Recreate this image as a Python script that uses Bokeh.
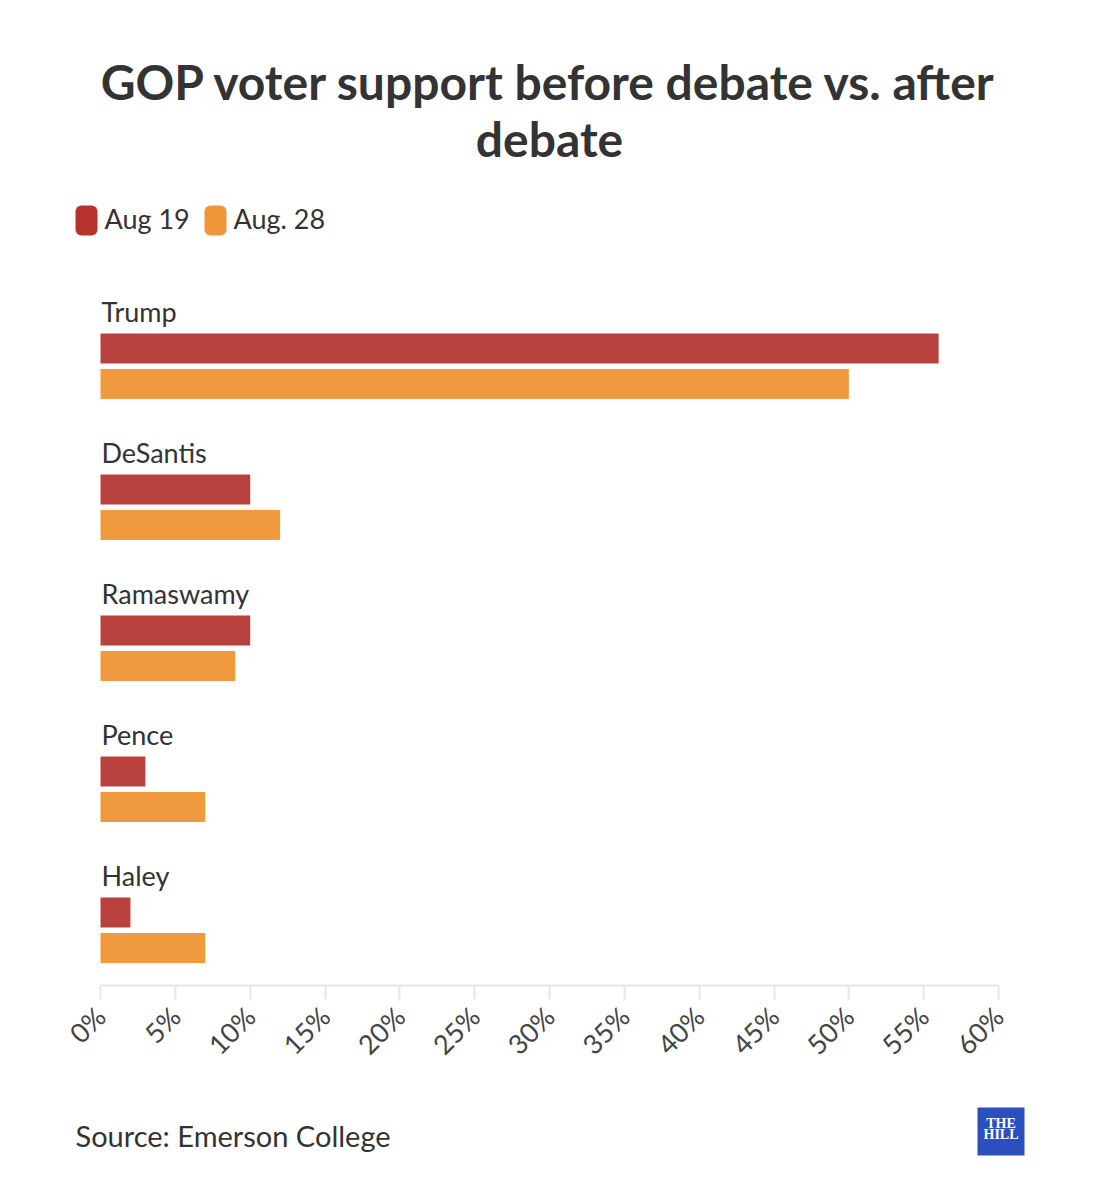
from bokeh.plotting import figure
from bokeh.models import Range1d, LinearAxis, FixedTicker, PrintfTickFormatter, ColumnDataSource, Label
from bokeh.core.properties import value
from bokeh.embed import file_html
from bokeh.resources import INLINE
import math

# ---- data ----
candidates = ["Trump", "DeSantis", "Ramaswamy", "Pence", "Haley"]
aug19 = [56, 10, 10, 3, 2]
aug28 = [50, 12, 9, 7, 7]
series_names = ["Aug 19", "Aug. 28"]
tick_values = [0, 5, 10, 15, 20, 25, 30, 35, 40, 45, 50, 55, 60]
title_lines = ["GOP voter support before debate vs. after", "debate"]
source_text = "Source: Emerson College"

# ---- styles / layout ----
W, H = 1082, 1184
RED = "#b8413d"
ORANGE = "#f09a3f"
LEG_RED = "#b5332c"
LEG_ORANGE = "#f0963a"
TXT = "#333333"
FONT = "Lato"
BASE_K = 0.43   # empirical alphabetic-baseline correction (fraction of font size)

PX_X0, PX_X1 = 100, 998          # px for 0% and 60%
XMAX = tick_values[-1]
pxu = (PX_X1 - PX_X0) / XMAX
PITCH = 141.0                    # px per category row
ROW0 = 348.0                     # px (from top) of first red bar center

def fx(sx):  # screen x -> data x
    return (sx - PX_X0) / pxu

def fy(sy):  # screen y -> data y (row units)
    return (sy - ROW0) / PITCH

def fyb(sy, size):  # baseline target -> label y
    return fy(sy - BASE_K * size)

p = figure(width=W, height=H, output_backend="svg", toolbar_location=None,
           x_range=Range1d(-PX_X0 / pxu, XMAX + (W - PX_X1) / pxu),
           y_range=Range1d((H - ROW0) / PITCH, -ROW0 / PITCH),
           min_border=0, x_axis_location=None, y_axis_location=None)
p.outline_line_color = None
p.xgrid.visible = False
p.ygrid.visible = False
p.background_fill_color = "white"
p.border_fill_color = "white"

BAR_H = 30 / PITCH
OFF = 35.5 / PITCH
LAB_SIZE = 27
idx = list(range(len(candidates)))
src = ColumnDataSource(dict(
    y1=idx, y2=[i + OFF for i in idx], a=aug19, b=aug28,
    ylab=[i + fyb(323, LAB_SIZE) for i in idx], name=candidates))

p.hbar(y="y1", right="a", left=0, height=BAR_H, source=src, fill_color=RED, line_color=None)
p.hbar(y="y2", right="b", left=0, height=BAR_H, source=src, fill_color=ORANGE, line_color=None)
p.text(x=fx(101), y="ylab", text="name", source=src, text_font=value(FONT),
       text_font_size=f"{LAB_SIZE}px", text_color=TXT, text_baseline="alphabetic", text_align="left")

# axis
ax = LinearAxis(fixed_location=fy(985), bounds=(0, XMAX),
                ticker=FixedTicker(ticks=tick_values),
                formatter=PrintfTickFormatter(format="%d%%"))
ax.axis_line_color = "#e6e6e6"
ax.axis_line_width = 2
ax.major_tick_line_color = "#e6e6e6"
ax.major_tick_line_width = 2
ax.major_tick_in = 0
ax.major_tick_out = 14
ax.minor_tick_line_color = None
ax.major_label_orientation = math.pi / 4
ax.major_label_text_font = FONT
ax.major_label_text_font_size = "27px"
ax.major_label_text_color = "#444444"
ax.major_label_standoff = 12
p.add_layout(ax, "below")

# title
TS = 48
for k, line in enumerate(title_lines):
    p.add_layout(Label(x=fx(549), y=fyb(102 + 57 * k, TS), text=line, text_align="center",
                       text_baseline="alphabetic", text_font=FONT, text_font_style="bold",
                       text_font_size=f"{TS}px", text_color=TXT))

# legend
LS = 27
leg_x = [75, 204]
leg_txt_x = [104, 233]
for k, (nm, col) in enumerate(zip(series_names, [LEG_RED, LEG_ORANGE])):
    p.quad(left=fx(leg_x[k]), right=fx(leg_x[k] + 22), top=fy(205), bottom=fy(235),
           fill_color=col, line_color=None, border_radius=6)
    p.add_layout(Label(x=fx(leg_txt_x[k]), y=fyb(230, LS), text=nm, text_align="left",
                       text_baseline="alphabetic", text_font=FONT,
                       text_font_size=f"{LS}px", text_color=TXT))

# source
SS = 29
p.add_layout(Label(x=fx(75), y=fyb(1147, SS), text=source_text, text_align="left",
                   text_baseline="alphabetic", text_font=FONT,
                   text_font_size=f"{SS}px", text_color=TXT))

# logo
p.quad(left=fx(977), right=fx(1024), top=fy(1107), bottom=fy(1155),
       fill_color="#2b4fbf", line_color=None)
for k, t in enumerate(["THE", "HILL"]):
    p.add_layout(Label(x=fx(1000.5), y=fyb(1129 + 11 * k, 14), text=t, text_align="center",
                       text_baseline="alphabetic", text_font="Liberation Serif",
                       text_font_style="bold", text_font_size="14px", text_color="white"))

open("out.html", "w").write(file_html(p, INLINE))
